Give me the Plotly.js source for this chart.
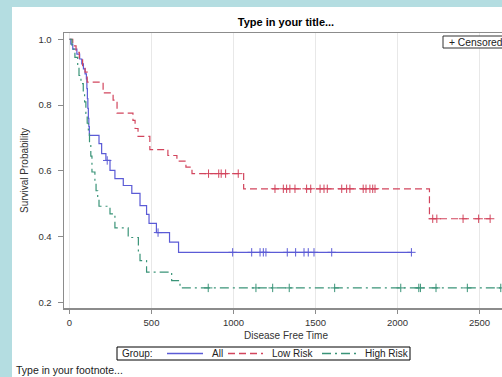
<!DOCTYPE html>
<html><head><meta charset="utf-8">
<script src="https://cdn.plot.ly/plotly-3.0.1.min.js"></script>
<style>
html,body{margin:0;padding:0;width:502px;height:377px;overflow:hidden;background:#b4dde1;}
#chart{position:absolute;left:12px;top:7px;width:520px;height:370px;background:#fff;}
</style></head><body><div id="chart"></div>
<script>
// Kaplan-Meier step data (time, survival) per group
const groupNames = ['All', 'Low Risk', 'High Risk'];

const allTime = [0, 8, 20, 45, 62, 75, 85, 95, 103, 106, 109, 112, 115, 118, 121, 180, 196, 222, 247, 277, 328, 380, 430, 470, 485, 530, 610, 665, 2085];
const allSurv = [1.0, 0.985, 0.97, 0.955, 0.94, 0.925, 0.91, 0.895, 0.88, 0.85, 0.82, 0.79, 0.76, 0.735, 0.708, 0.683, 0.653, 0.632, 0.602, 0.577, 0.556, 0.532, 0.495, 0.468, 0.441, 0.413, 0.384, 0.353, 0.353];
const allCensor = [230, 540, 995, 1111, 1162, 1182, 1198, 1328, 1379, 1430, 1456, 1491, 1599, 2085];

const lowTime = [0, 20, 40, 60, 80, 95, 108, 205, 266, 290, 387, 400, 418, 490, 600, 655, 710, 747, 1062, 2195, 2565];
const lowSurv = [1.0, 0.98, 0.96, 0.94, 0.92, 0.90, 0.87, 0.837, 0.815, 0.776, 0.754, 0.729, 0.705, 0.665, 0.647, 0.630, 0.612, 0.592, 0.546, 0.455, 0.455];
const lowCensor = [848, 910, 925, 952, 1029, 1253, 1304, 1324, 1344, 1375, 1446, 1471, 1528, 1552, 1572, 1660, 1690, 1710, 1791, 1808, 1832, 1849, 1863, 2215, 2240, 2400, 2495, 2565];

const highTime = [0, 15, 33, 50, 58, 70, 84, 92, 100, 108, 115, 122, 130, 137, 155, 162, 172, 180, 247, 277, 358, 420, 430, 470, 623, 674, 2630];
const highSurv = [1.0, 0.97, 0.945, 0.92, 0.89, 0.865, 0.835, 0.81, 0.775, 0.745, 0.715, 0.685, 0.645, 0.597, 0.565, 0.54, 0.515, 0.493, 0.47, 0.427, 0.398, 0.355, 0.328, 0.293, 0.267, 0.245, 0.245];
const highCensor = [846, 1137, 1239, 1340, 1617, 2020, 2130, 2140, 2235, 2426, 2630];

const xTicks = [0, 500, 1000, 1500, 2000, 2500];
const yTicks = [0.2, 0.4, 0.6, 0.8, 1.0];

const colors = ['rgb(91,91,214)', 'rgb(210,69,93)', 'rgb(58,148,120)'];
const dashes = ['solid', '7px,4px', '9px,4px,2px,4px'];

function stepAt(times, surv, t) {
  let s = surv[0];
  for (let i = 0; i < times.length; i++) if (times[i] <= t) s = surv[i];
  return s;
}

const groups = [
  [allTime, allSurv, allCensor],
  [lowTime, lowSurv, lowCensor],
  [highTime, highSurv, highCensor]
];

const traces = [];
groups.forEach((g, i) => {
  traces.push({
    x: g[0], y: g[1], mode: 'lines', name: groupNames[i],
    line: {shape: 'hv', color: colors[i], width: 1.2, dash: dashes[i]},
    hoverinfo: 'skip'
  });
});
groups.forEach((g, i) => {
  traces.push({
    x: g[2], y: g[2].map(t => stepAt(g[0], g[1], t)), mode: 'markers',
    marker: {symbol: 'cross-thin-open', size: 6, color: colors[i], line: {color: colors[i], width: 1}},
    hoverinfo: 'skip'
  });
});

// legend drawn in paper coordinates (plot area: 64..508 x, 33..308 y on the page)
const px = p => (p - 64) / 444;
const py = p => (308 - p) / 275;
const legY = py(353.5);
const sampleX = [[167, 203], [228, 263], [322, 357]];
const labelX = [210, 270, 363];

const shapes = [
  {type: 'rect', xref: 'paper', yref: 'paper', x0: px(117), x1: px(410), y0: py(360), y1: py(347),
   line: {color: '#000', width: 1}, fillcolor: 'rgba(0,0,0,0)'},
  {type: 'rect', xref: 'paper', yref: 'paper', x0: px(443), x1: px(545), y0: py(48), y1: py(36),
   line: {color: '#333', width: 1}, fillcolor: '#fff'}
];
sampleX.forEach((s, i) => shapes.push({
  type: 'line', xref: 'paper', yref: 'paper', x0: px(s[0]), x1: px(s[1]), y0: legY, y1: legY,
  layer: 'above', opacity: 1,
  line: {color: colors[i], width: 1.4, dash: dashes[i]}
}));

const annotations = [
  {text: 'Group:', x: px(120), y: legY},
  {text: 'Type in your footnote...', x: px(14), y: py(370), font: {size: 10.5, color: '#222'}},
  {text: '+ Censored', x: px(447), y: py(42.5), font: {size: 10.3, color: '#222'}}
].concat(groupNames.map((n, i) => ({text: n, x: px(labelX[i]), y: legY})))
 .map(a => Object.assign({xref: 'paper', yref: 'paper', xanchor: 'left', yanchor: 'middle', showarrow: false,
                          font: {size: 10, color: '#222'}}, a));

const axisLine = '#8c8c8c';
const layout = {
  width: 520, height: 370,
  margin: {l: 52, r: 24, t: 26, b: 69},
  showlegend: false,
  paper_bgcolor: '#fff', plot_bgcolor: '#fff',
  font: {family: 'Liberation Sans, Arial, sans-serif', color: '#333', size: 10},
  title: {text: '<b>Type in your title...</b>', font: {size: 11, color: '#000'},
          x: 0.5, xref: 'paper', xanchor: 'center', y: 1 - 15/370, yref: 'container', yanchor: 'middle'},
  xaxis: {
    range: [-33.5, 2674], tickvals: xTicks, ticks: 'outside', ticklen: 4, tickcolor: axisLine,
    linecolor: axisLine, linewidth: 1.5, mirror: true, showgrid: true, gridcolor: '#e8e8e8',
    zeroline: false, tickfont: {size: 9.5, color: '#333'}, ticklabelstandoff: 1,
    title: {text: 'Disease Free Time', font: {size: 10, color: '#333'}, standoff: 5}
  },
  yaxis: {
    range: [0.184, 1.019], tickvals: yTicks, tickformat: '.1f', ticks: 'outside', ticklen: 5, tickcolor: axisLine,
    linecolor: axisLine, linewidth: 1.5, mirror: true, showgrid: false, zeroline: false,
    tickfont: {size: 9.5, color: '#333'}, ticklabelstandoff: 4,
    title: {text: 'Survival Probability', font: {size: 10, color: '#333'}, standoff: 8}
  },
  shapes: shapes,
  annotations: annotations
};

Plotly.newPlot('chart', traces, layout, {staticPlot: true, displayModeBar: false});
</script></body></html>
